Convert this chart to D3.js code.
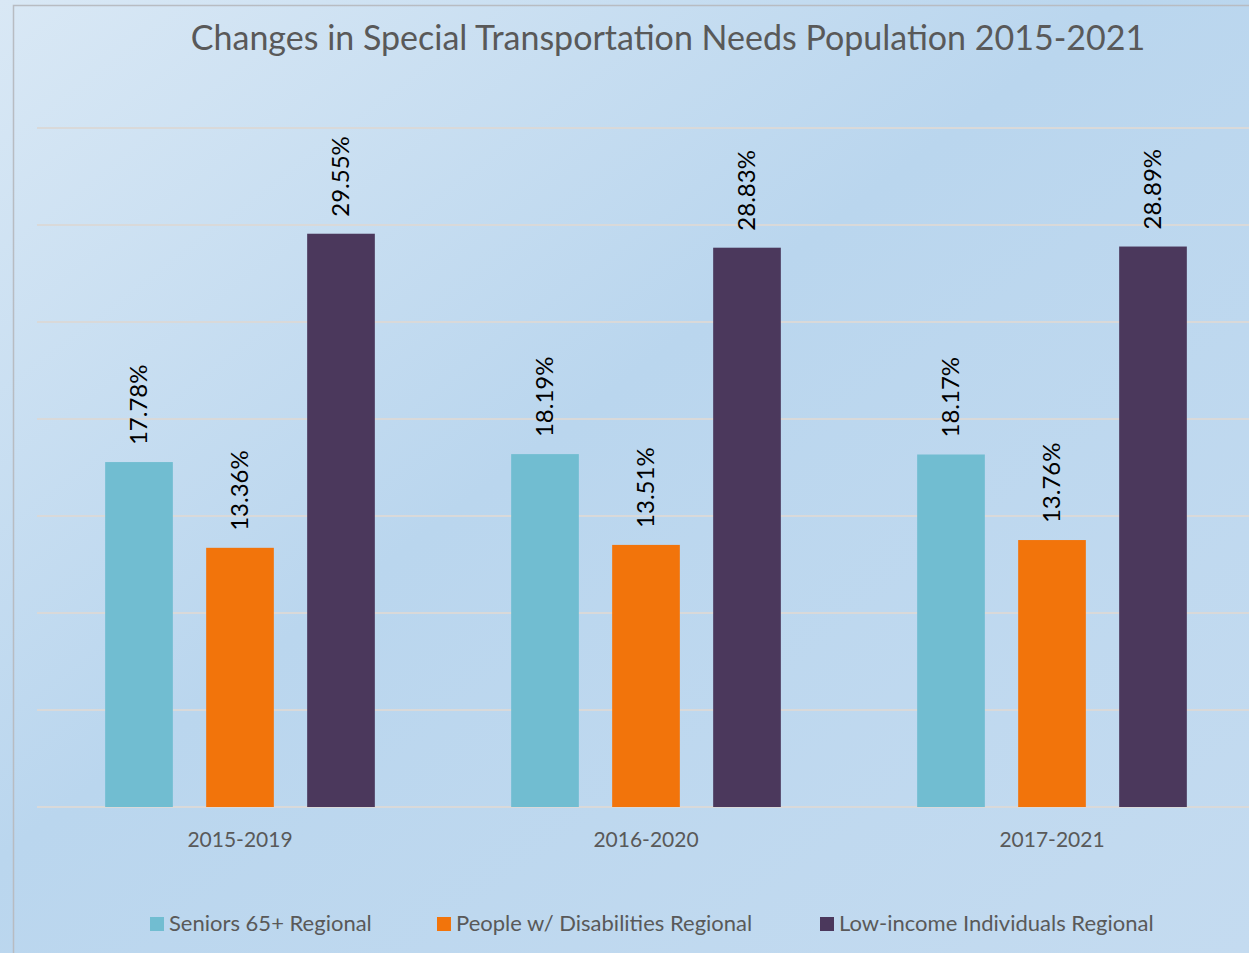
<!DOCTYPE html>
<html>
<head>
<meta charset="utf-8">
<script src="https://cdn.jsdelivr.net/npm/d3@7"></script>
<style>
  html, body { margin: 0; padding: 0; overflow: hidden; }
  svg { display: block; }
</style>
</head>
<body>
<svg id="chart" width="1249" height="953"></svg>
<script>
// Chart data.
const periods = ["2015-2019", "2016-2020", "2017-2021"];
const seriesNames = ["Seniors 65+ Regional", "People w/ Disabilities Regional", "Low-income Individuals Regional"];
const seniors = [17.78, 18.19, 18.17];
const disabilities = [13.36, 13.51, 13.76];
const lowIncome = [29.55, 28.83, 28.89];
const yTicks = [0, 5, 10, 15, 20, 25, 30, 35];
const colors = ["#71bdd1", "#f2740b", "#4b385c"];

const width = 1249, height = 953;
const font = "Lato, 'Open Sans', sans-serif";
const svg = d3.select("#chart");

// Background gradient.
const defs = svg.append("defs");
const grad = defs.append("linearGradient")
    .attr("id", "bg").attr("x1", "0%").attr("y1", "0%").attr("x2", "100%").attr("y2", "100%");
grad.append("stop").attr("offset", "0%").attr("stop-color", "#d9e8f5");
grad.append("stop").attr("offset", "45%").attr("stop-color", "#bad6ee");
grad.append("stop").attr("offset", "100%").attr("stop-color", "#c4dbf0");
svg.append("rect").attr("width", width).attr("height", height).attr("fill", "url(#bg)");

// Chart frame.
svg.append("rect")
    .attr("x", 13.5).attr("y", 5.5)
    .attr("width", 1260).attr("height", 980)
    .attr("fill", "none").attr("stroke", "#b8bcc2").attr("stroke-width", 1.5);

// Scales.
const x0 = d3.scaleBand().domain(periods).range([37, 1255]);
const x1 = d3.scaleBand().domain(seriesNames).range([-151.5, 151.5])
    .paddingInner(0.33).paddingOuter(0.165);
const y = d3.scaleLinear().domain([0, 35]).range([807, 128]);

// Gridlines.
svg.append("g").selectAll("line")
    .data(yTicks)
    .join("line")
    .attr("x1", 37).attr("x2", width)
    .attr("y1", d => y(d)).attr("y2", d => y(d))
    .attr("stroke", "#d9d9d9").attr("stroke-width", 2);

// Bars.
const rows = periods.map((p, i) => ({
    period: p,
    values: [seniors[i], disabilities[i], lowIncome[i]]
}));

const group = svg.append("g").selectAll("g")
    .data(rows)
    .join("g")
    .attr("transform", d => "translate(" + (x0(d.period) + x0.bandwidth() / 2) + ",0)");

group.selectAll("rect")
    .data(d => d.values.map((v, j) => ({ name: seriesNames[j], value: v, k: j })))
    .join("rect")
    .attr("x", d => x1(d.name))
    .attr("width", x1.bandwidth())
    .attr("y", d => y(d.value))
    .attr("height", d => y(0) - y(d.value))
    .attr("fill", d => colors[d.k]);

// Rotated data labels.
group.selectAll("text")
    .data(d => d.values.map((v, j) => ({ name: seriesNames[j], value: v })))
    .join("text")
    .attr("transform", d => "translate(" + (x1(d.name) + x1.bandwidth() / 2 + 8) + "," + (y(d.value) - 17) + ") rotate(-90)")
    .attr("font-family", font)
    .attr("font-size", 24)
    .attr("fill", "#000")
    .text(d => d.value.toFixed(2) + "%");

// Category labels.
svg.append("g").selectAll("text")
    .data(periods)
    .join("text")
    .attr("x", d => x0(d) + x0.bandwidth() / 2)
    .attr("y", 847)
    .attr("text-anchor", "middle")
    .attr("font-family", font)
    .attr("font-size", 21)
    .attr("fill", "#595959")
    .text(d => d);

// Title.
svg.append("text")
    .attr("x", 668).attr("y", 50)
    .attr("text-anchor", "middle")
    .attr("font-family", font)
    .attr("font-size", 34)
    .attr("fill", "#595959")
    .text("Changes in Special Transportation Needs Population 2015-2021");

// Legend.
const legendX = [150, 437, 820];
const legend = svg.append("g").selectAll("g")
    .data(seriesNames)
    .join("g")
    .attr("transform", (d, i) => "translate(" + legendX[i] + ",917)");
legend.append("rect")
    .attr("width", 14).attr("height", 14)
    .attr("fill", (d, i) => colors[i]);
legend.append("text")
    .attr("x", 19).attr("y", 14)
    .attr("font-family", font)
    .attr("font-size", 22)
    .attr("fill", "#595959")
    .text(d => d);
</script>
</body>
</html>
